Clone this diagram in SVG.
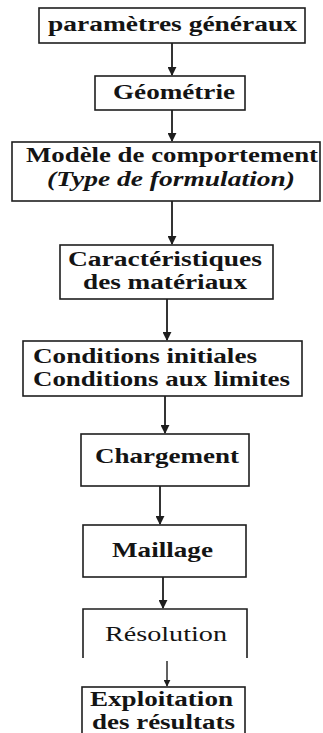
<svg xmlns="http://www.w3.org/2000/svg" width="323" height="733" viewBox="0 0 323 733">
<defs>
<style>
.box{fill:#fff;stroke:#1e1e1e;stroke-width:1.6}
.c{stroke:#1e1e1e;stroke-width:1.8;fill:none}
</style>
<marker id="ah" viewBox="0 0 10 10" refX="9" refY="5" markerWidth="5" markerHeight="5" orient="auto" markerUnits="strokeWidth">
<path d="M0,0 L10,5 L0,10 z" fill="#1e1e1e"/>
</marker>
</defs>
<rect width="323" height="733" fill="#fff"/>
<g id="connectors">
<line class="c" x1="172" y1="43" x2="172" y2="75" marker-end="url(#ah)"/>
<line class="c" x1="172" y1="110" x2="172" y2="141" marker-end="url(#ah)"/>
<line class="c" x1="172" y1="201" x2="172" y2="244" marker-end="url(#ah)"/>
<line class="c" x1="167" y1="299" x2="167" y2="340" marker-end="url(#ah)"/>
<line class="c" x1="165" y1="396" x2="165" y2="433" marker-end="url(#ah)"/>
<line class="c" x1="160" y1="486" x2="160" y2="524" marker-end="url(#ah)"/>
<line class="c" x1="163" y1="577" x2="163" y2="608" marker-end="url(#ah)"/>
<line class="c" x1="167" y1="661" x2="167" y2="686" marker-end="url(#ah)" style="stroke-width:1.4"/>
</g>
<g fill="#141414" font-size="21" font-weight="bold" font-family="Liberation Serif, serif">
<g id="n1">
<rect class="box" x="39" y="8" width="266" height="35"/>
<text x="48" y="31" font-size="20" textLength="249" lengthAdjust="spacingAndGlyphs">paramètres généraux</text>
</g>
<g id="n2">
<rect class="box" x="95" y="76" width="150" height="34"/>
<text x="113" y="99" font-size="20" textLength="122" lengthAdjust="spacingAndGlyphs">Géométrie</text>
</g>
<g id="n3">
<rect class="box" x="12" y="142" width="308" height="59"/>
<text x="26" y="162" textLength="292" lengthAdjust="spacingAndGlyphs">Modèle de comportement</text>
<text font-style="italic" x="47" y="186" textLength="248" lengthAdjust="spacingAndGlyphs">(Type de formulation)</text>
</g>
<g id="n4" font-size="20">
<rect class="box" x="60" y="245" width="213" height="54"/>
<text x="68" y="266" textLength="194" lengthAdjust="spacingAndGlyphs">Caractéristiques</text>
<text x="83" y="289" textLength="164" lengthAdjust="spacingAndGlyphs">des matériaux</text>
</g>
<g id="n5">
<rect class="box" x="23" y="341" width="279" height="55"/>
<text x="33" y="363" textLength="224" lengthAdjust="spacingAndGlyphs">Conditions initiales</text>
<text x="33" y="386" textLength="257" lengthAdjust="spacingAndGlyphs">Conditions aux limites</text>
</g>
<g id="n6">
<rect class="box" x="81" y="434" width="168" height="52"/>
<text x="95" y="463" textLength="144" lengthAdjust="spacingAndGlyphs">Chargement</text>
</g>
<g id="n7">
<rect class="box" x="83" y="525" width="163" height="52"/>
<text x="112" y="557" textLength="101" lengthAdjust="spacingAndGlyphs">Maillage</text>
</g>
<g id="n8">
<path class="box" d="M83,658 V609 H247 V658" fill="none"/>
<text font-weight="normal" x="105" y="641" textLength="122" lengthAdjust="spacingAndGlyphs">Résolution</text>
</g>
<g id="n9" font-size="20">
<rect class="box" x="82" y="687" width="163" height="56"/>
<text x="90" y="706" textLength="143" lengthAdjust="spacingAndGlyphs">Exploitation</text>
<text x="92" y="729" textLength="143" lengthAdjust="spacingAndGlyphs">des résultats</text>
</g>
</g>
</svg>
